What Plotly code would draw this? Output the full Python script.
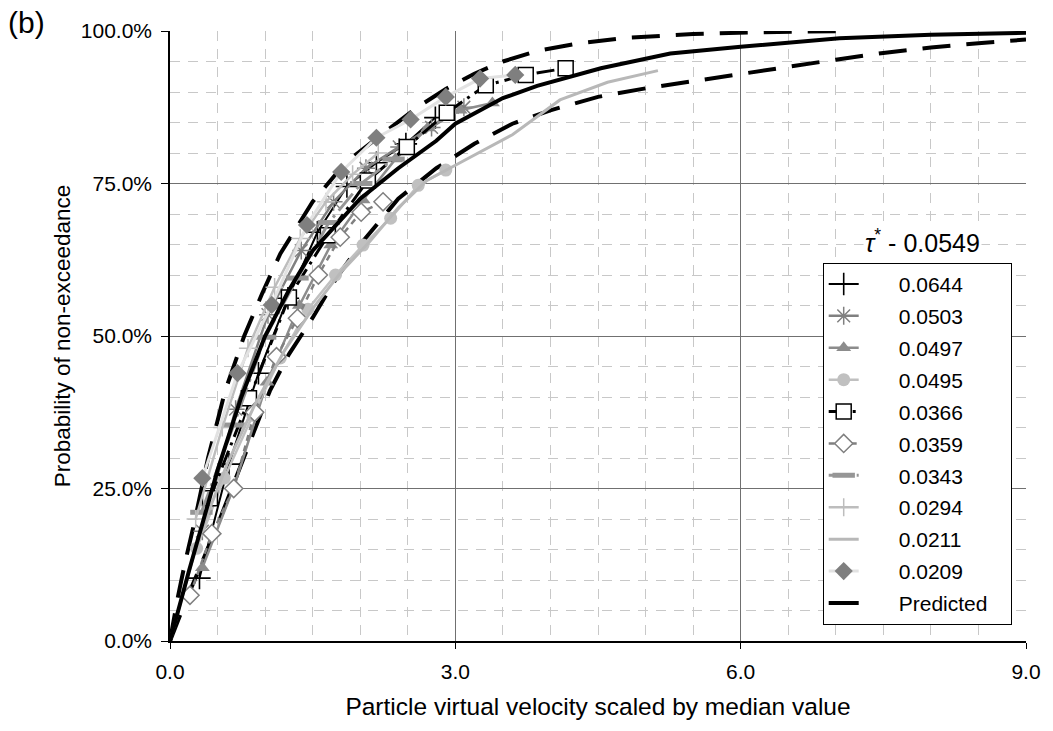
import plotly.graph_objects as go

# ---------------- data ----------------
x_0644 = [0.31, 0.62, 0.93, 1.24, 1.55, 1.86, 2.17, 2.48, 2.79]
y_0644 = [10.3, 29.0, 43.9, 56.2, 67.0, 74.5, 78.4, 81.5, 85.8]

x_0503 = [0.34, 0.69, 1.03, 1.38, 1.72, 2.06, 2.41, 2.75, 3.09]
y_0503 = [18.0, 38.0, 53.5, 64.0, 72.0, 77.5, 81.0, 84.2, 87.5]

x_0497 = [0.34, 0.68, 1.02, 1.36, 1.69, 2.03, 2.37, 2.71, 3.05, 3.39]
y_0497 = [12.0, 25.6, 42.4, 55.0, 64.9, 72.3, 79.0, 84.1, 87.0, 88.2]

x_0495 = [0.28, 0.57, 0.87, 1.16, 1.45, 1.74, 2.03, 2.32, 2.61, 2.90]
y_0495 = [15.2, 26.7, 37.0, 46.4, 54.4, 60.0, 64.9, 69.3, 74.7, 77.2]

x_0366 = [0.42, 0.83, 1.25, 1.66, 2.08, 2.49, 2.91, 3.32, 3.74, 4.16]
y_0366 = [23.4, 39.8, 56.3, 66.5, 75.5, 81.0, 86.6, 91.1, 92.8, 93.9]

x_0359 = [0.21, 0.44, 0.67, 0.89, 1.12, 1.34, 1.56, 1.79, 2.01, 2.24]
y_0359 = [7.5, 17.6, 25.0, 37.5, 46.6, 52.9, 60.0, 66.2, 70.3, 72.0]

x_0343 = [0.33, 0.67, 1.00, 1.34, 1.67, 2.01, 2.35]
y_0343 = [21.1, 35.4, 49.8, 59.5, 68.6, 75.0, 79.0]

x_0294 = [0.27, 0.55, 0.82, 1.10, 1.37, 1.64, 1.92, 2.19]
y_0294 = [20.0, 35.0, 48.0, 58.0, 66.0, 72.0, 76.5, 80.0]

x_0211 = [0.0, 0.3, 0.6, 0.9, 1.2, 1.5, 1.8, 2.1, 2.4, 2.7, 3.0, 3.3, 3.6, 4.1, 4.6, 5.13]
y_0211 = [0.0, 17.0, 29.0, 39.0, 47.5, 54.5, 60.5, 65.5, 71.0, 75.5, 78.0, 80.5, 83.0, 88.7, 91.6, 93.5]

x_0209 = [0.34, 0.71, 1.07, 1.44, 1.80, 2.17, 2.53, 2.90, 3.26, 3.63]
y_0209 = [26.7, 43.9, 55.1, 68.2, 76.9, 82.5, 85.5, 89.2, 92.2, 92.8]

x_pred = [0, 0.1, 0.2, 0.3, 0.5, 0.75, 1.0, 1.25, 1.5, 2.0, 2.4, 2.8, 3.0, 3.5, 3.86, 4.53, 5.26, 6.0, 7.04, 8.0, 9.0]
y_pred = [0, 6.0, 11.5, 17.0, 28.0, 40.0, 50.0, 57.5, 64.0, 72.5, 77.5, 82.0, 84.8, 89.0, 91.0, 93.9, 96.3, 97.4, 98.8, 99.4, 99.7]

x_upper = [0, 0.08, 0.16, 0.25, 0.4, 0.58, 0.78, 0.97, 1.16, 1.5, 1.85, 2.1, 2.3, 2.6, 2.9, 3.2, 3.5, 3.85, 4.3, 4.8, 5.5, 6.2, 7.1]
y_upper = [0, 7.0, 13.0, 19.0, 30.0, 41.0, 50.0, 57.0, 63.5, 72.0, 78.5, 81.5, 84.0, 87.5, 90.5, 93.0, 95.0, 96.7, 98.0, 98.9, 99.5, 99.8, 100.0]

x_lower = [0, 0.15, 0.3, 0.5, 0.7, 0.9, 1.05, 1.25, 1.5, 1.75, 2.0, 2.4, 2.8, 3.2, 3.6, 4.0, 4.5, 5.0, 5.5, 6.0, 6.5, 7.0, 7.5, 8.0, 8.5, 9.0]
y_lower = [0, 6.0, 11.5, 19.0, 27.0, 35.0, 41.0, 47.0, 53.0, 59.5, 65.0, 72.5, 77.5, 81.5, 84.8, 87.0, 89.2, 90.6, 91.8, 93.0, 94.1, 95.3, 96.4, 97.3, 98.0, 98.6]

x_ticks = [0, 3, 6, 9]
x_ticktext = ["0.0", "3.0", "6.0", "9.0"]
y_ticks = [0, 25, 50, 75, 100]
y_ticktext = ["0.0%", "25.0%", "50.0%", "75.0%", "100.0%"]

FONT = "Liberation Sans, Arial, sans-serif"
PAD = "\u00a0" * 6          # widen the gap between legend sample and label
TAIL = "\u00a0" * 3

fig = go.Figure()

# confidence bounds (no legend entries)
for xs, ys in ((x_upper, y_upper), (x_lower, y_lower)):
    fig.add_trace(go.Scatter(x=xs, y=ys, mode="lines", showlegend=False,
                             line=dict(color="black", width=4, dash="28px,16px"),
                             hoverinfo="skip"))

series = [
    ("0.0644", x_0644, y_0644, dict(color="black", width=2),
     dict(symbol="cross-thin", size=16, color="black", line=dict(color="black", width=1.6))),
    ("0.0503", x_0503, y_0503, dict(color="#808080", width=2.5),
     dict(symbol="asterisk", size=15, color="#808080", line=dict(color="#808080", width=1.5))),
    ("0.0497", x_0497, y_0497, dict(color="#8c8c8c", width=2.5),
     dict(symbol="triangle-up", size=13, color="#8c8c8c")),
    ("0.0495", x_0495, y_0495, dict(color="#c0c0c0", width=2.5),
     dict(symbol="circle", size=13, color="#c0c0c0")),
    ("0.0366", x_0366, y_0366, dict(color="black", width=3, dash="18px,6px,3px,6px"),
     dict(symbol="square", size=15, color="white", line=dict(color="black", width=1.5))),
    ("0.0359", x_0359, y_0359, dict(color="#808080", width=2.5, dash="6px,5px"),
     dict(symbol="diamond", size=14, color="white", line=dict(color="#808080", width=1.5))),
    ("0.0343", x_0343, y_0343, dict(color="#969696", width=3, dash="22px,6px,3px,6px"),
     dict(symbol="line-ew", size=16, color="#969696", line=dict(color="#969696", width=5))),
    ("0.0294", x_0294, y_0294, dict(color="#bdbdbd", width=2.5),
     dict(symbol="cross-thin", size=13, color="#bdbdbd", line=dict(color="#bdbdbd", width=1.5))),
    ("0.0211", x_0211, y_0211, dict(color="#b8b8b8", width=3),
     None),
    ("0.0209", x_0209, y_0209, dict(color="#e2e2e2", width=3),
     dict(symbol="diamond", size=14, color="#7f7f7f")),
]

for i, (name, xs, ys, ln, mk) in enumerate(series):
    kw = dict(x=xs, y=ys, name=PAD + name, line=ln, legendgroup=f"g{i}")
    if mk is None:
        kw["mode"] = "lines"
    else:
        kw["mode"] = "lines+markers"
        kw["marker"] = mk
    fig.add_trace(go.Scatter(**kw))

fig.add_trace(go.Scatter(x=x_pred, y=y_pred, mode="lines", name=PAD + "Predicted" + TAIL,
                         legendgroup="pred", line=dict(color="black", width=4)))

fig.update_layout(
    width=1053, height=731,
    margin=dict(l=170, r=20, t=31, b=90),
    paper_bgcolor="white", plot_bgcolor="white",
    font=dict(family=FONT, size=21, color="black"),
    showlegend=True,
    legend=dict(x=0.7625, y=0.62, xanchor="left", yanchor="top",
                bgcolor="white", bordercolor="black", borderwidth=1,
                font=dict(family=FONT, size=21, color="black"),
                tracegroupgap=1.6, traceorder="grouped"),
    xaxis=dict(range=[0, 9], tickvals=x_ticks, ticktext=x_ticktext,
               showgrid=True, gridcolor="#707070", gridwidth=1,
               showline=True, linecolor="black", linewidth=1.5, mirror=False,
               ticks="outside", ticklen=6, tickcolor="black",
               tickfont=dict(family=FONT, size=21),
               ticklabelstandoff=5,
               zeroline=False,
               minor=dict(dtick=0.5, showgrid=True, gridcolor="#c8c8c8",
                          griddash="10px,8px", gridwidth=1),
               title=dict(text="Particle virtual velocity scaled by median value",
                          font=dict(family=FONT, size=24.5), standoff=16)),
    yaxis=dict(range=[0, 100], tickvals=y_ticks, ticktext=y_ticktext,
               showgrid=True, gridcolor="#707070", gridwidth=1,
               showline=True, linecolor="black", linewidth=1.5, mirror=False,
               ticks="outside", ticklen=7, tickcolor="black",
               tickfont=dict(family=FONT, size=21),
               ticklabelstandoff=5,
               zeroline=False,
               minor=dict(dtick=5, showgrid=True, gridcolor="#c8c8c8",
                          griddash="10px,8px", gridwidth=1),
               title=dict(text="Probability of non-exceedance",
                          font=dict(family=FONT, size=22.5), standoff=4)),
)

fig.add_annotation(text="<i>τ</i><sup>*</sup> - 0.0549", xref="paper", yref="paper",
                   x=0.8795, y=0.627, xanchor="center", yanchor="bottom",
                   showarrow=False, font=dict(family=FONT, size=25),
                   bgcolor="white")
fig.add_annotation(text="(b)", xref="paper", yref="paper",
                   x=-0.192, y=1.045, xanchor="left", yanchor="top",
                   showarrow=False, font=dict(family=FONT, size=30))

fig.write_html("out.html")
